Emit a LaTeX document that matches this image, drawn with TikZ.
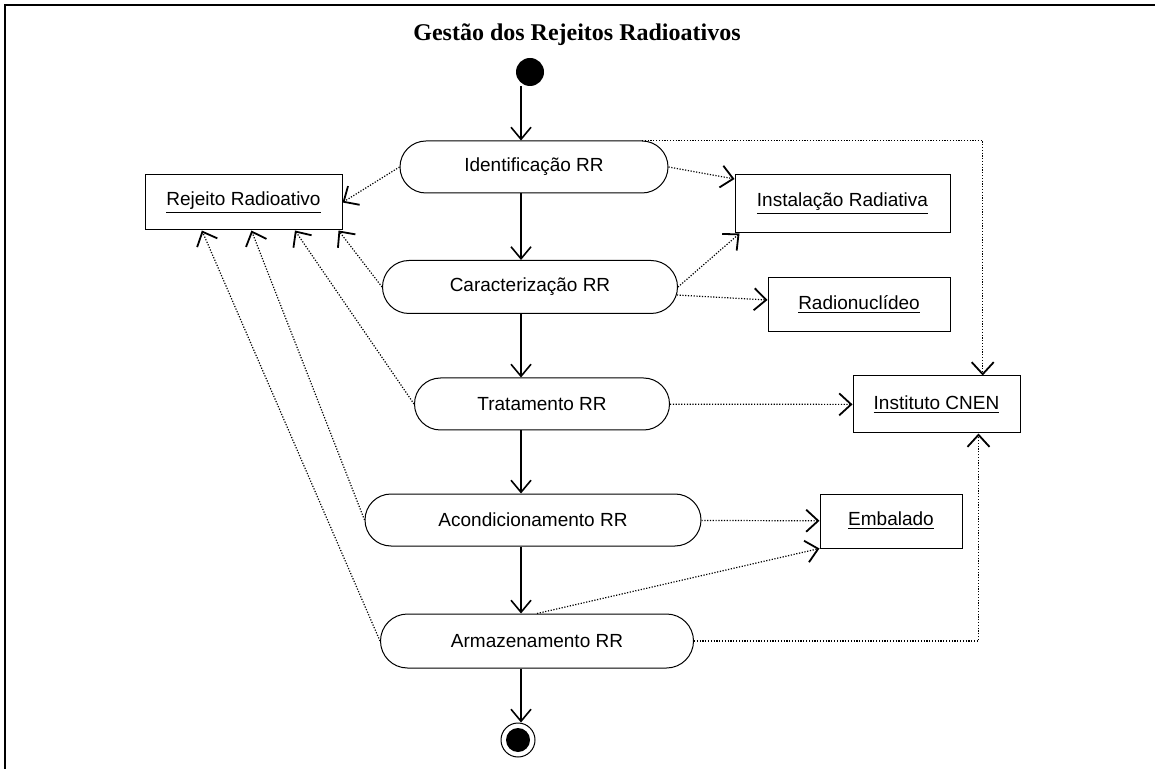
\documentclass[tikz,border=0pt]{standalone}
\usepackage{fontspec}
\setmainfont{Liberation Sans}
\newfontfamily\titlefont{Liberation Serif}
\usetikzlibrary{shapes.misc,arrows.meta,calc}

\begin{document}
\begin{tikzpicture}[x=0.5pt,y=-0.5pt,
    font=\fontsize{9.5}{11}\selectfont,
    state/.style={rounded rectangle,draw,line width=0.5pt,inner sep=0pt,minimum height=26pt},
    thing/.style={rectangle,draw,line width=0.5pt,inner sep=0pt,minimum height=28pt},
    flow/.style={line width=0.6pt,-{Straight Barb[length=6pt,width=10pt,line width=0.8pt]}},
    uses/.style={line width=0.6pt,dash pattern=on 0.6pt off 0.8pt,
        -{Straight Barb[length=6pt,width=11pt,line width=0.9pt]}}]

    \useasboundingbox (0,0) rectangle (1155,769);
    \draw[line width=1pt] (1155,5) -- (5,5) -- (5,769);

    \node[font=\titlefont\fontsize{12}{14}\selectfont\bfseries] (title) at (577,35) {Gestão dos Rejeitos Radioativos};
    \coordinate (spine) at (521,0);

    \node[circle,fill,inner sep=0pt,minimum size=14pt] (start) at (530,72) {};
    \node[state,minimum width=134pt] (ident) at (534,167) {Identificação RR};
    \node[state,minimum width=147.5pt,minimum height=26.5pt] (carac) at (530,287) {Caracterização RR};
    \node[state,minimum width=127.5pt] (trat) at (542,404) {Tratamento RR};
    \node[state,minimum width=168pt] (acond) at (533,520) {Acondicionamento RR};
    \node[state,minimum width=156.5pt,minimum height=27pt] (armaz) at (537,641) {Armazenamento RR};
    \node[circle,draw,line width=0.5pt,inner sep=0pt,minimum size=17pt] (stop) at (518,740) {};
    \node[circle,fill,inner sep=0pt,minimum size=12pt] (stopdot) at (stop) {};

    \node[thing,minimum width=98.5pt,minimum height=27.5pt] (rejeito) at (243.5,202.5) {\underline{Rejeito Radioativo}};
    \node[thing,minimum width=107.5pt,minimum height=29pt] (instal) at (842.5,204) {\underline{Instalação Radiativa}};
    \node[thing,minimum width=91pt,minimum height=27pt] (radio) at (859,305) {\underline{Radionuclídeo}};
    \node[thing,minimum width=83.5pt,minimum height=28.5pt] (cnen) at (936.5,404.5) {\underline{Instituto CNEN}};
    \node[thing,minimum width=71pt,minimum height=27pt] (embal) at (891,521) {\underline{Embalado}};

    \draw[flow] (start.south -| spine) -- (ident.north -| spine);
    \draw[flow] (ident.south -| spine) -- (carac.north -| spine);
    \draw[flow] (carac.south -| spine) -- (trat.north -| spine);
    \draw[flow] (trat.south -| spine) -- (acond.north -| spine);
    \draw[flow] (acond.south -| spine) -- (armaz.north -| spine);
    \draw[flow] (armaz.south -| spine) -- (stop.north -| spine);

    \draw[uses] (ident.west) -- (rejeito.east);
    \draw[uses] (carac.west) -- ($(rejeito.south west)!0.98!(rejeito.south east)$);
    \draw[uses] (trat.west) -- ($(rejeito.south west)!0.76!(rejeito.south east)$);
    \draw[uses] (acond.west) -- ($(rejeito.south west)!0.54!(rejeito.south east)$);
    \draw[uses] (armaz.west) -- ($(rejeito.south west)!0.29!(rejeito.south east)$);

    \draw[uses] (ident.east) -- ([yshift=12.5pt]instal.west);
    \draw[uses] (carac.east) -- ([xshift=2.5pt]instal.south west);
    \draw[uses] (carac) -- (radio);
    \draw[uses] (trat) -- (cnen);
    \draw[uses] (acond) -- (embal);
    \draw[uses] (armaz.north) -- (embal.south west);
    \draw[uses] (ident.north east) -| ($(cnen.north)!0.55!(cnen.north east)$);
    \draw[uses] (armaz.east) -| ($(cnen.south)!0.5!(cnen.south east)$);
\end{tikzpicture}
\end{document}
